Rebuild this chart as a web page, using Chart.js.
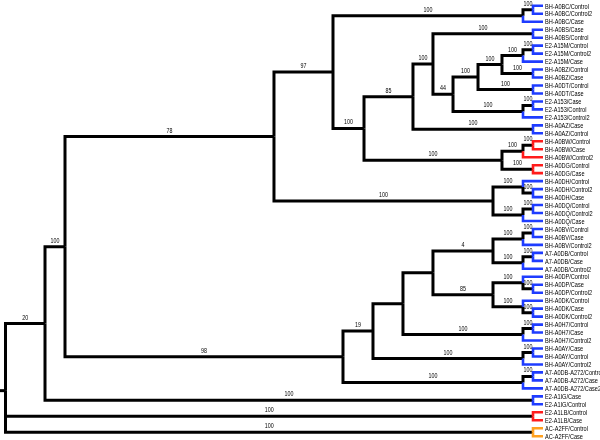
<!DOCTYPE html>
<html><head><meta charset="utf-8">
<script src="https://cdn.jsdelivr.net/npm/chart.js@4.4.1/dist/chart.umd.min.js"></script>
<style>html,body{margin:0;padding:0;background:#fff}#wrap{width:600px;height:440px;position:relative}</style>
</head><body><div id="wrap"><canvas id="c" width="600" height="440"></canvas></div>
<script>
// ---- DATA ----
const leafNames = [
 'BH-A0BC/Control','BH-A0BC/Control2','BH-A0BC/Case',
 'BH-A0BS/Case','BH-A0BS/Control',
 'E2-A15M/Control','E2-A15M/Control2','E2-A15M/Case',
 'BH-A0BZ/Control','BH-A0BZ/Case',
 'BH-A0DT/Control','BH-A0DT/Case',
 'E2-A153/Case','E2-A153/Control','E2-A153/Control2',
 'BH-A0AZ/Case','BH-A0AZ/Control',
 'BH-A0BW/Control','BH-A0BW/Case','BH-A0BW/Control2',
 'BH-A0DG/Control','BH-A0DG/Case',
 'BH-A0DH/Control','BH-A0DH/Control2','BH-A0DH/Case',
 'BH-A0DQ/Control','BH-A0DQ/Control2','BH-A0DQ/Case',
 'BH-A0BV/Control','BH-A0BV/Case','BH-A0BV/Control2',
 'A7-A0DB/Control','A7-A0DB/Case','A7-A0DB/Control2',
 'BH-A0DP/Control','BH-A0DP/Case','BH-A0DP/Control2',
 'BH-A0DK/Control','BH-A0DK/Case','BH-A0DK/Control2',
 'BH-A0H7/Control','BH-A0H7/Case','BH-A0H7/Control2',
 'BH-A0AY/Case','BH-A0AY/Control','BH-A0AY/Control2',
 'A7-A0DB-A272/Control','A7-A0DB-A272/Case','A7-A0DB-A272/Case2',
 'E2-A1IG/Case','E2-A1IG/Control',
 'E2-A1LB/Control','E2-A1LB/Case',
 'AC-A2FF/Control','AC-A2FF/Case'
];
const leafGroups = [
 'b','b','b','b','b','b','b','b','b','b','b','b','b','b','b','b','b',
 'r','r','r','r','r',
 'b','b','b','b','b','b','b','b','b','b','b','b','b','b','b','b','b','b',
 'b','b','b','b','b','b','b','b','b','b','b',
 'r','r','o','o'
];
// Clades in Newick form: numbers are leaf positions (1-based, in leafNames order),
// ")NN" = bootstrap support, ":v" = branch length (distance units, tips at 100).
const cladeA15M = '((6:1.86,7:1.86)100:1.86,8:3.72)100:3.91';
const cladeBZ   = '(9:1.86,10:1.86)100:5.77';
const cladeDT   = '(11:1.86,12:1.86)100:10.23';
const cladeA153 = '((13:1.86,14:1.86)100:1.86,15:3.72)100:13.02';
const cladeBS   = '(4:1.86,5:1.86)100:18.61';
const cladeAZ   = '(16:1.86,17:1.86)100:22.33';
const cladeBW   = '((18:1.86,19:1.86)100:1.86,20:3.72)100:3.91';
const cladeDG   = '(21:1.86,22:1.86)100:5.77';
const cladeBC   = '((1:1.86,2:1.86)100:1.86,3:3.72)100:35.35';
const cladeDH   = '(23:3.72,(24:1.86,25:1.86)100:1.86)100:5.58';
const cladeDQ   = '((26:1.86,27:1.86)100:1.86,28:3.72)100:5.58';
const cladeBV   = '((29:1.86,30:1.86)100:1.86,31:3.72)100:5.58';
const cladeA7   = '((32:1.86,33:1.86)100:1.86,34:3.72)100:5.58';
const cladeDP   = '(35:3.72,(36:1.86,37:1.86)100:1.86)100:5.58';
const cladeDK   = '(38:3.72,(39:1.86,40:1.86)100:1.86)100:5.58';
const cladeH7   = '((41:1.86,42:1.86)100:1.86,43:3.72)100:22.33';
const cladeAY   = '((44:1.86,45:1.86)100:1.86,46:3.72)100:27.91';
const cladeA272 = '((47:1.86,48:1.86)100:1.86,49:3.72)100:33.49';
const cladeA1IG = '(50:1.86,51:1.86)100:90.79';
const cladeA1LB = '(52:1.86,53:1.86)100:98.14';
const cladeA2FF = '(54:1.86,55:1.86)100:98.14';

const upperTree =
 '((' + cladeBC + ',(((' + cladeBS + ',(((' + cladeA15M + ',' + cladeBZ + ')100:4.46,' + cladeDT + ')100:4.65,' +
 cladeA153 + ')44:3.73)100:3.72,' + cladeAZ + ')85:9.11,(' + cladeBW + ',' + cladeDG + ')100:25.67)100:5.77)97:10.98,(' +
 cladeDH + ',' + cladeDQ + ')100:40.75)78:38.88';
const lowerTree =
 '(((((' + cladeBV + ',' + cladeA7 + ')4:11.17,(' + cladeDP + ',' + cladeDK + ')85:11.17):5.58,' + cladeH7 + '):5.58,' +
 cladeAY + ')19:5.58,' + cladeA272 + ')98:51.72';
const newick = '(((' + upperTree + ',' + lowerTree + ')100:3.72,' + cladeA1IG + ')20:7.35,' + cladeA1LB + ',' + cladeA2FF + ');';

// ---- PARSE + LAYOUT ----
function parseNewick(s){
  let i = 0;
  function node(){
    const n = {children:[], label:'', len:0};
    if (s[i] === '('){
      i++;
      n.children.push(node());
      while (s[i] === ','){ i++; n.children.push(node()); }
      i++;
    }
    let lab = '';
    while (i < s.length && !',:);'.includes(s[i])) lab += s[i++];
    n.label = lab;
    if (s[i] === ':'){
      i++; let num = '';
      while (i < s.length && !',);'.includes(s[i])) num += s[i++];
      n.len = parseFloat(num);
    }
    return n;
  }
  return node();
}
const root = parseNewick(newick);
function layout(n, d){
  n.depth = d + n.len;
  if (!n.children.length){ n.leaf = parseInt(n.label, 10); n.y = n.leaf; }
  else {
    n.children.forEach(c => layout(c, n.depth));
    n.y = n.children.reduce((a, c) => a + c.y, 0) / n.children.length;
  }
}
layout(root, 0);

const colorOf = {b:'#1e3cff', r:'#ff1c1c', o:'#ffa01e'};
const datasets = [];
const supportLabels = [];
const leafLabels = [];
function walk(p){
  p.children.forEach(c => {
    const isLeaf = !c.children.length;
    datasets.push({
      data: [{x:p.depth, y:p.y}, {x:p.depth, y:c.y}, {x:c.depth, y:c.y}],
      borderColor: isLeaf ? colorOf[leafGroups[c.leaf - 1]] : '#000000',
      borderWidth: isLeaf ? 2.6 : 3,
      showLine: true, pointRadius: 0, borderJoinStyle: 'miter', borderCapStyle: 'butt',
      order: isLeaf ? 1 : 2
    });
    if (isLeaf) leafLabels.push({x:c.depth, y:c.y, t:leafNames[c.leaf - 1]});
    else {
      if (c.label) supportLabels.push({x:(p.depth + c.depth) / 2, y:c.y, t:c.label});
      walk(c);
    }
  });
}
walk(root);
// root stub
datasets.push({data:[{x:-1.2, y:root.y}, {x:0, y:root.y}], borderColor:'#000', borderWidth:3, showLine:true, pointRadius:0});

const textPlugin = {
  id: 'treeText',
  afterDatasetsDraw(chart){
    const ctx = chart.ctx, xs = chart.scales.x, ys = chart.scales.y;
    ctx.save();
    ctx.fillStyle = '#000';
    ctx.textAlign = 'left'; ctx.textBaseline = 'middle';
    ctx.font = '8px "Liberation Sans", Arial, sans-serif';
    leafLabels.forEach(l => {
      const w = ctx.measureText(l.t).width;
      ctx.fillText(l.t, xs.getPixelForValue(l.x) + 2, ys.getPixelForValue(l.y) + 0.5, w * 0.7);
    });
    ctx.textAlign = 'center'; ctx.textBaseline = 'bottom';
    ctx.font = '6.5px "Liberation Sans", Arial, sans-serif';
    supportLabels.forEach(l => {
      const w = ctx.measureText(l.t).width;
      ctx.fillText(l.t, xs.getPixelForValue(l.x), ys.getPixelForValue(l.y) - 2.5, w * 0.82);
    });
    ctx.restore();
  }
};

new Chart(document.getElementById('c'), {
  type: 'scatter',
  data: {datasets},
  options: {
    responsive: false, animation: false, events: [],
    layout: {padding: 0},
    plugins: {legend: {display: false}, tooltip: {enabled: false}},
    scales: {
      x: {type: 'linear', display: false, min: -1.0233, max: 110.605},
      y: {type: 'linear', display: false, reverse: true, min: 0.2723, max: 55.479}
    }
  },
  plugins: [textPlugin]
});
</script>
</body></html>
